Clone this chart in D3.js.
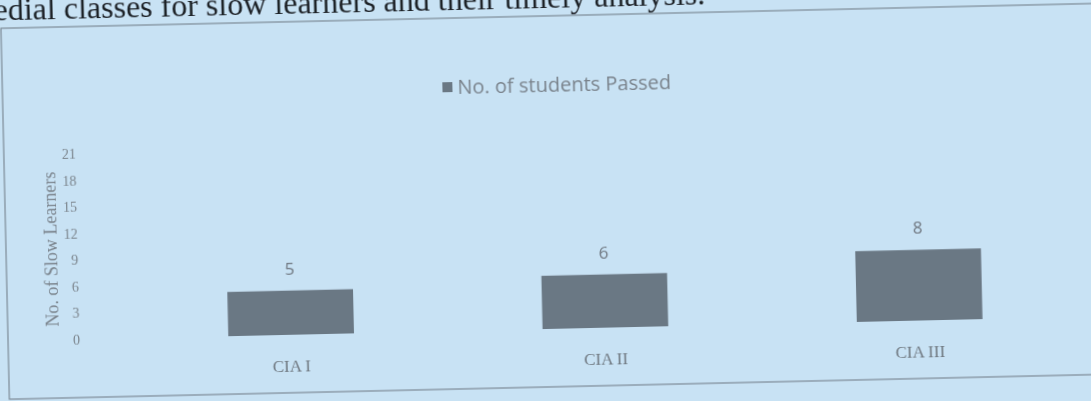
<!DOCTYPE html>
<meta charset="utf-8">
<script src="https://d3js.org/d3.v7.min.js"></script>
<style>
  body { margin: 0; background: #c8e2f4; overflow: hidden; }
</style>
<div id="my_dataviz"></div>
<script>
// data
var categories = ["CIA I", "CIA II", "CIA III"];
var passed = [5, 6, 8];
var yTicks = [0, 3, 6, 9, 12, 15, 18, 21];
var seriesName = "No. of students Passed";
var yTitle = "No. of Slow Learners";
var heading = "edial classes for slow learners and their timely analysis.";

var W = 1091, H = 401;

var svg = d3.select("#my_dataviz")
  .append("svg")
    .attr("width", W)
    .attr("height", H);

// slight blur, it is a photo of a printed page
svg.append("defs").append("filter")
    .attr("id", "soft")
  .append("feGaussianBlur")
    .attr("stdDeviation", 0.45);

svg.append("rect")
    .attr("width", W).attr("height", H)
    .attr("fill", "#c8e2f4");

// the page is photographed a little tilted
var page = svg.append("g")
    .attr("filter", "url(#soft)")
    .attr("transform", "rotate(-1.3 545 200)");

// heading line of the document (cut at the top, like the photo)
page.append("text")
    .attr("x", -2)
    .attr("y", 8)
    .style("font-family", "'Liberation Serif', serif")
    .style("font-size", "32px")
    .style("fill", "#1c2026")
    .text(heading);

// chart frame
page.append("rect")
    .attr("x", 5).attr("y", 16)
    .attr("width", 1110).attr("height", 371)
    .attr("fill", "none")
    .attr("stroke", "#7d8a96")
    .attr("stroke-width", 1.2);

// scales
var x = d3.scaleBand()
  .domain(categories)
  .range([131, 1074])
  .paddingInner(0.6)
  .paddingOuter(0.3);

var y = d3.scaleLinear()
  .domain([0, 21])
  .range([329, 143]);

// y axis (labels only)
var yAxis = page.append("g")
    .attr("transform", "translate(77,0)")
    .call(d3.axisLeft(y).tickValues(yTicks).tickSize(0).tickPadding(0));
yAxis.select(".domain").remove();
yAxis.selectAll("text")
    .style("font-family", "'Liberation Serif', serif")
    .style("font-size", "14px")
    .style("fill", "#7b848c");

page.append("text")
    .attr("transform", "translate(50,238) rotate(-90)")
    .attr("text-anchor", "middle")
    .attr("dy", "0.35em")
    .style("font-family", "'Liberation Serif', serif")
    .style("font-size", "18px")
    .style("fill", "#7a838c")
    .text(yTitle);

// bars
page.selectAll(".bar")
  .data(passed)
  .enter()
  .append("rect")
    .attr("class", "bar")
    .attr("x", function(d, i) { return x(categories[i]); })
    .attr("y", function(d) { return y(d); })
    .attr("width", x.bandwidth())
    .attr("height", function(d) { return y(0) - y(d); })
    .attr("fill", "#6b7884");

// value labels
page.selectAll(".val")
  .data(passed)
  .enter()
  .append("text")
    .attr("x", function(d, i) { return x(categories[i]) + x.bandwidth() / 2; })
    .attr("y", function(d) { return y(d) - 16; })
    .attr("text-anchor", "middle")
    .style("font-family", "'Open Sans', sans-serif")
    .style("font-size", "17px")
    .style("fill", "#6f7780")
    .text(function(d) { return d; });

// category labels
page.selectAll(".cat")
  .data(categories)
  .enter()
  .append("text")
    .attr("x", function(d) { return x(d) + x.bandwidth() / 2; })
    .attr("y", 366)
    .attr("text-anchor", "middle")
    .style("font-family", "'Liberation Serif', serif")
    .style("font-size", "17px")
    .style("fill", "#6f7880")
    .text(function(d) { return d; });

// legend
var legend = page.append("g")
    .attr("transform", "translate(445,85)");
legend.append("rect")
    .attr("x", 0).attr("y", -5)
    .attr("width", 10).attr("height", 10)
    .attr("fill", "#6b7884");
legend.append("text")
    .attr("x", 15)
    .attr("y", 0)
    .attr("dy", "0.35em")
    .style("font-family", "'Open Sans', sans-serif")
    .style("font-size", "20px")
    .style("fill", "#7a838c")
    .text(seriesName);
</script>
